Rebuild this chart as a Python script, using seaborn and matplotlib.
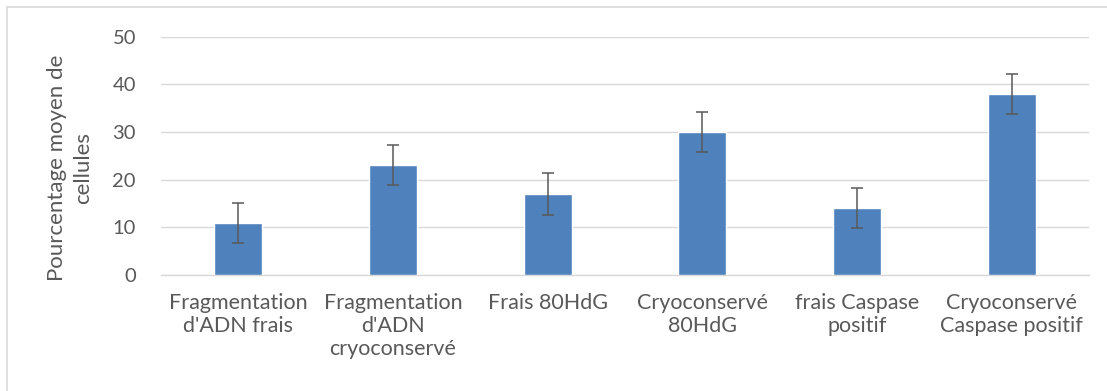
import matplotlib.pyplot as plt
from matplotlib.lines import Line2D
import pandas as pd
import seaborn as sns

# Values
categories = [
    "Fragmentation\nd'ADN frais",
    "Fragmentation\nd'ADN\ncryoconservé",
    "Frais 80HdG",
    "Cryoconservé\n80HdG",
    "frais Caspase\npositif",
    "Cryoconservé\nCaspase positif",
]
means = [11, 23, 17, 30, 14, 38]
errors = [4.2, 4.2, 4.4, 4.2, 4.2, 4.2]
yticks = [0, 10, 20, 30, 40, 50]

df = pd.DataFrame({"categorie": categories, "pourcentage": means})

sns.set_style("white")
plt.rcParams["font.family"] = ["Lato", "DejaVu Sans"]

text_grey = "#595959"
grid_grey = "#D9D9D9"

fig = plt.figure(figsize=(11.07, 3.91), dpi=100)
ax = fig.add_axes([0.1454, 0.2967, 0.8383, 0.6093])

sns.barplot(data=df, x="categorie", y="pourcentage", color="#4F81BD",
            saturation=1, width=0.31, errorbar=None, ax=ax, zorder=3)
ax.errorbar(x=range(len(means)), y=means, yerr=errors, fmt="none",
            ecolor=text_grey, elinewidth=1.1, capsize=4.3, capthick=1.1, zorder=4)

ax.set_ylim(0, 50)
ax.set_xlim(-0.5, len(categories) - 0.5)
ax.set_yticks(yticks)
ax.yaxis.grid(True, color=grid_grey, linewidth=1, zorder=0)
ax.set_axisbelow(True)
for side in ["top", "right", "left"]:
    ax.spines[side].set_visible(False)
ax.spines["bottom"].set_color(grid_grey)
ax.spines["bottom"].set_linewidth(1)

ax.tick_params(axis="both", length=0, colors=text_grey)
ax.tick_params(axis="y", pad=18, labelsize=14.5)
ax.tick_params(axis="x", pad=13, labelsize=15.5)
for lab in ax.get_xticklabels():
    lab.set_linespacing(1.2)
ax.set_xlabel("")
ax.set_ylabel("Pourcentage moyen de\ncellules", color=text_grey, fontsize=16,
              linespacing=1.4)
ax.yaxis.set_label_coords(-0.073, 0.45)

# chart frame (top and left edges are visible in the reference)
fig.add_artist(Line2D([6.5 / 1107, 1], [1 - 6.5 / 391, 1 - 6.5 / 391],
                      color=grid_grey, linewidth=1.2))
fig.add_artist(Line2D([6.5 / 1107, 6.5 / 1107], [0, 1 - 6.5 / 391],
                      color=grid_grey, linewidth=1.2))

fig.savefig("out.png", dpi=100)
